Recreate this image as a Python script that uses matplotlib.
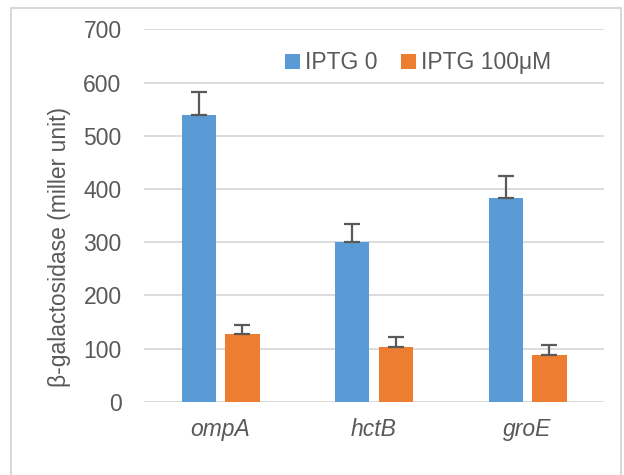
import matplotlib
matplotlib.use("Agg")
import matplotlib.pyplot as plt
import numpy as np
from matplotlib.patches import Rectangle

categories = ["ompA", "hctB", "groE"]
series_names = ["IPTG 0", "IPTG 100μM"]
iptg0 = [539, 300, 384]
iptg0_err = [44, 34, 40]
iptg100 = [127, 102, 88]
iptg100_err = [17, 20, 18]
yticks = [0, 100, 200, 300, 400, 500, 600, 700]

plt.rcParams['font.family'] = ['Liberation Sans', 'DejaVu Sans']
txt = '#595959'
fs = 16.5
fig = plt.figure(figsize=(6.24, 4.75), dpi=100)
ax = fig.add_axes([0.2304, 0.1543, 0.738, 0.7836])

x = np.arange(len(categories))
w = 0.224
off = 0.142
ekw = dict(ecolor='#595959', elinewidth=1.6, capsize=6, capthick=1.6)
ax.bar(x - off, iptg0, w, color='#5B9BD5', label=series_names[0], zorder=3)
ax.bar(x + off, iptg100, w, color='#ED7D31', label=series_names[1], zorder=3)
ax.errorbar(x - off, iptg0, yerr=[[0]*3, iptg0_err], fmt='none', zorder=4, **ekw)
ax.errorbar(x + off, iptg100, yerr=[[0]*3, iptg100_err], fmt='none', zorder=4, **ekw)

ax.set_xlim(-0.5, 2.5)
ax.set_ylim(0, 700)
ax.set_yticks(yticks)
ax.set_yticklabels([str(t) for t in yticks], fontsize=fs, color=txt)
ax.set_xticks(x)
ax.set_xticklabels(categories, fontsize=fs, color=txt, style='italic')
ax.tick_params(axis='y', length=0, pad=16)
ax.tick_params(axis='x', length=0, pad=12)
ax.yaxis.grid(True, color='#D9D9D9', lw=1.3, zorder=0)
ax.set_axisbelow(True)
for s in ax.spines.values():
    s.set_visible(False)
ax.set_ylabel("β-galactosidase (miller unit)", fontsize=fs, color=txt)
ax.yaxis.set_label_coords(-0.157, 0.416)

leg = ax.legend(loc='center', bbox_to_anchor=(0.5955, 0.91), ncol=2, frameon=False,
                fontsize=fs, handlelength=0.65, handleheight=0.6, handletextpad=0.25,
                columnspacing=1.0, borderpad=0, borderaxespad=0)
for t in leg.get_texts():
    t.set_color(txt)

fig.patches.append(Rectangle((11/624, -0.1), (621-11)/624, (475-8)/475 + 0.1,
                             transform=fig.transFigure, fill=False,
                             edgecolor='#D9D9D9', lw=1.5))

fig.savefig("out.png", dpi=100)
